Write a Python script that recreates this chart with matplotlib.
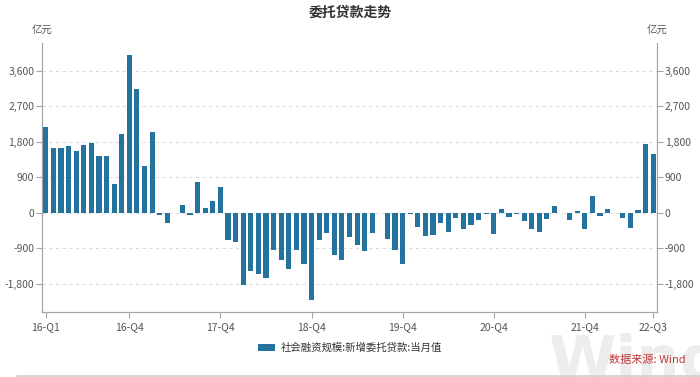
import matplotlib
matplotlib.use("Agg")
import matplotlib.pyplot as plt
import pandas as pd
from matplotlib.lines import Line2D
from matplotlib.ticker import FuncFormatter

plt.rcParams["font.family"] = ["Noto Sans CJK SC", "DejaVu Sans"]

# monthly new entrusted loans (100m yuan), 2016-01 .. 2022-09
start, end = "2016-01", "2022-09"
values = [2170, 1650, 1650, 1690, 1566, 1719, 1770, 1431, 1448, 728, 1990, 4005,
          3141, 1185, 2040, -50, -270, -20, 186, -68, 779, 110, 305, 660,
          -703, -745, -1837, -1473, -1566, -1643, -948, -1211, -1431, -948, -1304, -2201,
          -694, -508, -1075, -1202, -627, -821, -982, -508, -15, -669, -948, -1312,
          -25, -356, -584, -576, -271, -483, -144, -415, -313, -186, -25, -550,
          85, -100, -25, -212, -406, -483, -152, 178, -17, -186, 34, -415,
          423, -76, 93, 5, -127, -381, 76, 1744, 1499]
tick_months = ["2016-01", "2016-12", "2017-12", "2018-12", "2019-12", "2020-12", "2021-12", "2022-09"]
tick_labels = ["16-Q1", "16-Q4", "17-Q4", "18-Q4", "19-Q4", "20-Q4", "21-Q4", "22-Q3"]
y_ticks = [-1800, -900, 0, 900, 1800, 2700, 3600]

series_name = "社会融资规模:新增委托贷款:当月值"
title = "委托贷款走势"
unit = "亿元"
source = "数据来源: Wind"

bar_color = "#23739e"
axis_color = "#a5a5a5"
text_color = "#555555"

months = pd.period_range(start, end, freq="M").astype(str).tolist()
pos = list(range(len(months)))
tick_pos = [months.index(m) for m in tick_months]

fig = plt.figure(figsize=(7, 3.77), dpi=100)
W, H = 700, 377
ax = fig.add_axes([42 / W, 1 - 312.3 / H, (657 - 42) / W, (312.3 - 43) / H])

# watermark, cut by the bottom edge like the original
fig.text(548 / W, 1 - 379 / H, "Wind", fontsize=44, color="#ededed",
         fontweight="bold", family="DejaVu Sans", va="baseline", zorder=0)

ax.set_facecolor("none")
ax.bar(pos, values, width=0.68, color=bar_color, zorder=3, label=series_name)
ax.set_xlim(-0.5, len(months) - 0.5)
ax.set_ylim(-2525, 4302)
ax.set_yticks(y_ticks)
ax.yaxis.set_major_formatter(FuncFormatter(lambda v, p: f"{v:,.0f}"))
ax.grid(axis="y", color="#dcdcdc", linestyle=(0, (3, 3)), linewidth=0.8, zorder=0)
ax.set_xticks(tick_pos)
ax.set_xticklabels(tick_labels)

ax2 = ax.twinx()
ax2.set_ylim(ax.get_ylim())
ax2.set_yticks(y_ticks)
ax2.yaxis.set_major_formatter(FuncFormatter(lambda v, p: f"{v:,.0f}"))

for a in (ax, ax2):
    a.spines["top"].set_visible(False)
    for s in ("left", "right", "bottom"):
        a.spines[s].set_color(axis_color)
        a.spines[s].set_linewidth(0.8)
    a.tick_params(axis="both", colors=axis_color, labelcolor=text_color,
                  labelsize=7.5, length=4, width=0.8, pad=1.5)
ax.tick_params(axis="x", pad=3)

fig.text(350 / W, 1 - 13 / H, title, ha="center", va="center", fontsize=10,
         color="#333333", fontweight="bold")
fig.text(42 / W, 1 - 31 / H, unit, ha="center", va="center", fontsize=7.5, color=text_color)
fig.text(657 / W, 1 - 31 / H, unit, ha="center", va="center", fontsize=7.5, color=text_color)

leg = ax.legend(loc="center", bbox_to_anchor=(350 / W, 1 - 348 / H),
                bbox_transform=fig.transFigure, frameon=False, fontsize=7.5,
                handlelength=1.6, handleheight=0.7, handletextpad=0.5)
for t in leg.get_texts():
    t.set_color("#333333")

fig.text(686 / W, 1 - 360 / H, source, ha="right", va="center", fontsize=8, color="#c0393b",
         zorder=5)
fig.add_artist(Line2D([17 / W, 1], [1 - 376 / H] * 2, color="#cfcfcf", linewidth=1.2,
                      transform=fig.transFigure))

fig.savefig("out.png", dpi=100)
